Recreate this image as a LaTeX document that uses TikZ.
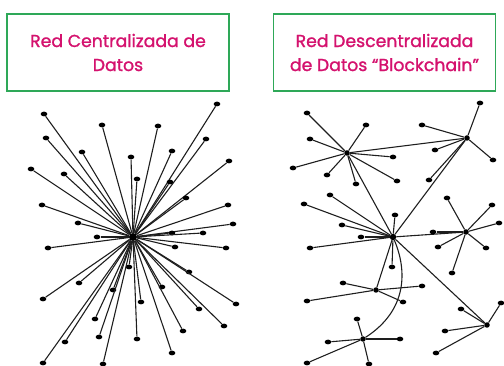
\documentclass[tikz,border=0pt]{standalone}
\usepackage{fontspec}
\setmainfont{Poppins}
\newfontfamily\titlefont{Poppins}[FakeBold=1.3]
\usepackage{xcolor}
\usepackage{tikz}
\usetikzlibrary{shapes.geometric}

\definecolor{boxgreen}{RGB}{46,168,88}
\definecolor{titlepink}{RGB}{212,18,110}
\definecolor{edgegray}{RGB}{30,30,30}

\begin{document}
\begin{tikzpicture}[
  x=1pt,y=-1pt,
  title/.style={
    rectangle,draw=boxgreen,line width=1.4pt,
    minimum width=222pt,minimum height=77pt,
    align=center,text=titlepink,font=\titlefont\fontsize{17.3}{24}\selectfont
  },
  dot/.style={ellipse,fill=black,inner sep=0pt,minimum width=6.6pt,minimum height=4.8pt},
  hub/.style={circle,fill=black,inner sep=0pt,minimum size=5.5pt},
  edge/.style={draw=edgegray,line width=1.1pt}
]
\useasboundingbox (0,0) rectangle (504,366);

% title boxes
\node[title] (tcen) at (118,52.5) {Red Centralizada de\\Datos};
\node[title] (tdes) at (384.5,52.5) {Red Descentralizada\\de Datos “Blockchain”};

% centralized network
\node[hub,minimum size=8pt] (c) at (133,237) {};
\foreach \n/\p in {1/{44,114},2/{102,125},3/{158,126},4/{217,104},5/{46,138},
  6/{82,152},7/{131,157},8/{172,151},9/{206,139},10/{31,169},11/{64,174},
  12/{137,179},13/{170,182},14/{229,161},15/{42,205},16/{186,198},17/{228,205},
  18/{78,223},19/{97,237},20/{233,224},21/{172,233},22/{203,233},23/{48,248},
  24/{175,247},25/{226,248},26/{129,267},27/{189,272},28/{79,283},29/{113,290},
  30/{162,287},31/{43,299},32/{236,304},33/{141,302},34/{199,309},35/{95,319},
  36/{224,326},37/{183,331},38/{99,337},39/{137,339},40/{65,342},41/{172,353},
  42/{43,363},43/{103,364}}{
  \node[dot] (c\n) at (\p) {};
  \draw[edge] (c) -- (c\n);
}

% decentralized network
\node[hub] (h1) at (347,153) {};
\node[hub] (h2) at (467,138) {};
\node[hub,minimum size=6.5pt] (h3) at (393,237) {};
\node[hub] (h4) at (466,232) {};
\node[hub] (h5) at (376,290) {};
\node[hub] (h6) at (363,339) {};
\node[hub] (h7) at (487,325) {};

\draw[edge] (h1) -- (h2);
\draw[edge] (h1) -- (h3);
\draw[edge] (h2) -- (h3);
\draw[edge] (h3) -- (h4);
\draw[edge] (h3) -- (h5);
\draw[edge] (h3) -- (h7);
\draw[edge] (h3) .. controls (407,270) and (408,310) .. (h6);

\foreach \h/\n/\p in {h1/1/{307,113},h1/2/{366,125},h1/3/{310,139},h1/4/{293,168},
  h1/5/{327,175},h1/6/{356,184},h1/7/{393,157},h1/8/{397,181},
  h2/1/{480,103},h2/2/{422,125},h2/3/{435,150},h2/4/{493,160},h2/5/{429,180},
  h3/1/{304,204},h3/2/{330,195},h3/3/{395,215},h3/4/{342,225},h3/5/{361,237},
  h3/6/{310,248},h3/7/{392,267},
  h4/1/{447,198},h4/2/{492,205},h4/3/{499,223},h4/4/{433,232},h4/5/{438,247},
  h4/6/{486,248},h4/7/{452,273},
  h5/1/{343,283},h5/2/{422,286},h5/3/{307,301},h5/4/{403,302},
  h6/1/{357,319},h6/2/{328,342},h6/3/{400,339},h6/4/{307,363},h6/5/{369,364},
  h7/1/{501,303},h7/2/{461,309},h7/3/{445,331},h7/4/{436,353}}{
  \node[dot] (\h l\n) at (\p) {};
  \draw[edge] (\h) -- (\h l\n);
}

\end{tikzpicture}
\end{document}
